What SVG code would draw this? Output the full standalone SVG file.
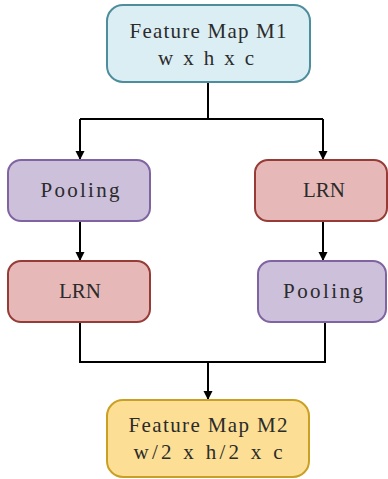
<svg xmlns="http://www.w3.org/2000/svg" width="388" height="479" viewBox="0 0 388 479">
<defs>
<marker id="arr" viewBox="0 0 10 10" refX="10" refY="5" markerWidth="9" markerHeight="12" markerUnits="userSpaceOnUse" orient="auto">
<path d="M0,0 L10,5 L0,10 Z" fill="#000"/>
</marker>
</defs>
<style>
.box{stroke-width:2}
.blue{fill:#dbeef4;stroke:#4d8d9c}
.purple{fill:#ccc0da;stroke:#8064a2}
.red{fill:#e6b9b8;stroke:#963b36}
.yellow{fill:#fcdf94;stroke:#c9a024}
.t{font-family:"Liberation Serif","DejaVu Serif",serif;font-size:21px;fill:#2b2b2b;text-anchor:middle}
.c{fill:none;stroke:#000;stroke-width:2}
</style>
<g id="connectors">
<path class="c" d="M208 82 V119"/>
<path class="c" d="M80 119 H323"/>
<path class="c" d="M80 119 V160" marker-end="url(#arr)"/>
<path class="c" d="M323 119 V160" marker-end="url(#arr)"/>
<path class="c" d="M80 221 V261" marker-end="url(#arr)"/>
<path class="c" d="M323 221 V261" marker-end="url(#arr)"/>
<path class="c" d="M80 322 V362 H325 V322"/>
<path class="c" d="M208 362 V400" marker-end="url(#arr)"/>
</g>
<g id="m1">
<rect class="box blue" x="107" y="5" width="203" height="77" rx="16"/>
<text class="t" x="208" y="38" textLength="157" lengthAdjust="spacing">Feature Map M1</text>
<text class="t" x="206" y="65" textLength="96" lengthAdjust="spacing">w x h x c</text>
</g>
<g id="pool1">
<rect class="box purple" x="8" y="160" width="142" height="61" rx="13"/>
<text class="t" x="80" y="197" textLength="79" lengthAdjust="spacing">Pooling</text>
</g>
<g id="lrn1">
<rect class="box red" x="255" y="160" width="132" height="61" rx="13"/>
<text class="t" x="324" y="197">LRN</text>
</g>
<g id="lrn2">
<rect class="box red" x="8" y="261" width="142" height="61" rx="13"/>
<text class="t" x="80" y="298">LRN</text>
</g>
<g id="pool2">
<rect class="box purple" x="258" y="261" width="128" height="61" rx="13"/>
<text class="t" x="323" y="298" textLength="80" lengthAdjust="spacing">Pooling</text>
</g>
<g id="m2">
<rect class="box yellow" x="107" y="400" width="202" height="77" rx="16"/>
<text class="t" x="208" y="432" textLength="159" lengthAdjust="spacing">Feature Map M2</text>
<text class="t" x="208" y="459" textLength="149" lengthAdjust="spacing">w/2 x h/2 x c</text>
</g>
</svg>
